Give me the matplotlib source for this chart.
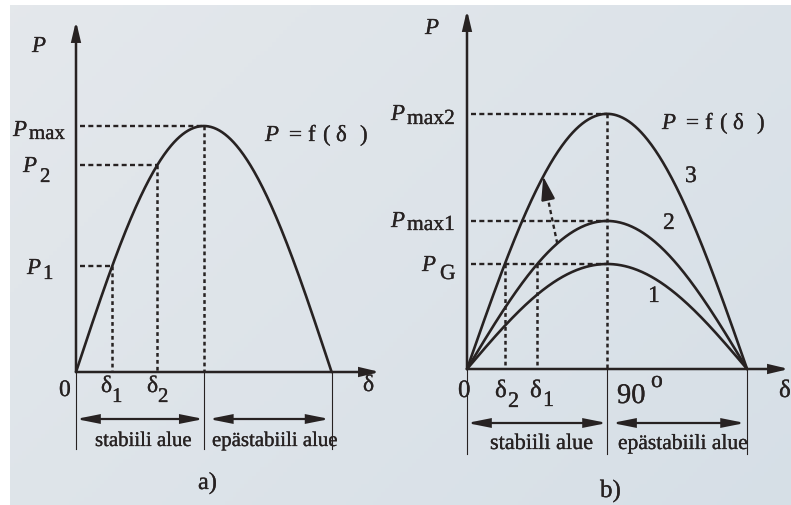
import numpy as np
import matplotlib
matplotlib.use("Agg")
import matplotlib.pyplot as plt
import matplotlib.patheffects as pe
from matplotlib.patches import FancyArrowPatch

plt.rcParams["lines.scale_dashes"] = False

W, H = 791, 506
INK = "#272222"
SERIF = "Liberation Serif"

# ---------------- data ----------------
# load angle in degrees, power-angle characteristic P = Pmax * sin(delta)
delta_deg = np.linspace(0.0, 180.0, 361)

# a) one curve, power levels relative to P_max
a_pmax = 1.0
a_level_names = ["max", "2", "1"]
a_levels = [1.0, 0.84, 0.43]

# b) three curves with increasing maximum power
b_curve_names = ["1", "2", "3"]
b_pmax = [1.0, 1.41, 2.43]
b_level_names = ["max2", "max1", "G"]
b_levels = [2.43, 1.41, 1.0]
b_pg = 1.0
# shift of the operating point from curve 2 up to curve 3 (degrees)
b_shift_from = 58.0
b_shift_to = 49.0

# ---------------- layout ----------------
# each panel: origin (pixels), pixels per degree, pixels per power unit
PA = dict(x0=76, y0=373, xs=1.42, ys=246)
PB = dict(x0=467, y0=370, xs=1.556, ys=105)

fig = plt.figure(figsize=(W / 100, H / 100), dpi=100)
fig.patch.set_facecolor("white")

# paper background with slight shading
bg = fig.add_axes([10 / W, 0, (W - 10) / W, (H - 6) / H])
gx = np.linspace(0, 1, 200)
gy = np.linspace(0, 1, 120)
GX, GY = np.meshgrid(gx, gy)
c0 = np.array([0.895, 0.910, 0.925])
c1 = np.array([0.840, 0.875, 0.905])
t = np.clip(0.6 * GX + 0.4 * GY, 0, 1)[..., None]
bg.imshow(c0 * (1 - t) + c1 * t, aspect="auto", extent=(0, 1, 0, 1), origin="upper")
bg.axis("off")

INK_STROKE = [pe.withStroke(linewidth=0.2, foreground=INK)]


def make_panel(p):
    ax = fig.add_axes([0, 0, 1, 1])
    ax.set_xlim(-p["x0"] / p["xs"], (W - p["x0"]) / p["xs"])
    ax.set_ylim((p["y0"] - H) / p["ys"], p["y0"] / p["ys"])
    ax.axis("off")
    ax.patch.set_visible(False)
    return ax


def px(p, xp, yp):
    return ((xp - p["x0"]) / p["xs"], (p["y0"] - yp) / p["ys"])


def arrow(ax, start, end, style, lw, ms):
    ax.add_patch(FancyArrowPatch(start, end, arrowstyle=style, mutation_scale=ms,
                                 lw=lw, color=INK, shrinkA=0, shrinkB=0,
                                 clip_on=False, joinstyle="miter"))


def txt(ax, p, xp, yp, s, size, italic=False, ha="left"):
    ax.text(*px(p, xp, yp), s, ha=ha, va="baseline", fontsize=size,
            family=SERIF, style="italic" if italic else "normal", color=INK,
            path_effects=INK_STROKE)


def hdash(ax, p, y, x_end):
    ax.plot([4 / p["xs"], x_end], [y, y], color=INK, lw=1.7,
            dashes=(3.6, 2.4), dash_capstyle="butt")


def vdash(ax, x, y_top):
    ax.plot([x, x], [y_top, 0], color=INK, lw=1.8,
            dashes=(2.7, 2.3), dash_capstyle="butt")


def axes_frame(ax, p, ytip_px, xtip_px):
    arrow(ax, (0, 0), px(p, p["x0"], ytip_px), "-|>,head_length=0.55,head_width=0.13", 1.8, 20)
    arrow(ax, (0, 0), px(p, xtip_px, p["y0"]), "-|>,head_length=0.55,head_width=0.13", 1.8, 20)


def regions(ax, p, y_px, bottom_px):
    y = px(p, 0, y_px)[1]
    yb = px(p, 0, bottom_px)[1]
    for d in (0, 90, 180):
        ax.plot([d, d], [0, yb], color=INK, lw=0.8)
    st = "<|-|>,head_length=0.65,head_width=0.13"
    arrow(ax, (0, y), (90, y), st, 1.6, 20)
    arrow(ax, (90 + 5 / p["xs"], y), (180 - 2 / p["xs"], y), st, 1.6, 20)


def pf_label(ax, p, x, y):
    # "P = f ( δ )"
    txt(ax, p, x, y, "P", 16.5, italic=True)
    for dx, s in ((24, "="), (43, "f"), (58, "("), (71, "δ"), (95, ")")):
        txt(ax, p, x + dx, y, s, 16.5)


# ---------------- panel a ----------------
ax = make_panel(PA)
p = PA
d = np.radians(delta_deg)
ax.plot(delta_deg, a_pmax * np.sin(d), color=INK, lw=1.9, solid_capstyle="round")
axes_frame(ax, p, 22, 380)

a_deltas = [np.degrees(np.arcsin(v / a_pmax)) for v in a_levels]
for v, dd in zip(a_levels, a_deltas):
    hdash(ax, p, v, dd)
    vdash(ax, dd, v)

regions(ax, p, 420, 450)

txt(ax, p, 32, 53, "P", 16.5, italic=True)
# level labels: (P left, P baseline, sub left, sub baseline)
a_lab_pos = {"max": (13, 137, 29, 140), "2": (23, 173, 40, 183), "1": (27, 275, 43, 280)}
for name in a_level_names:
    x1, y1, x2, y2 = a_lab_pos[name]
    txt(ax, p, x1, y1, "P", 16.5, italic=True)
    txt(ax, p, x2, y2, name, 15)

txt(ax, p, 59, 397, "0", 17)
txt(ax, p, 101, 393, "δ", 17)
txt(ax, p, 112, 403, "1", 15)
txt(ax, p, 147, 393, "δ", 17)
txt(ax, p, 158, 403, "2", 15)
txt(ax, p, 363, 392, "δ", 17)
pf_label(ax, p, 265, 142)
txt(ax, p, 95, 447, "stabiili alue", 15)
txt(ax, p, 212, 447, "epästabiili alue", 15)
txt(ax, p, 198, 490, "a)", 17.5)

# ---------------- panel b ----------------
ax = make_panel(PB)
p = PB
for pm in b_pmax:
    ax.plot(delta_deg, pm * np.sin(d), color=INK, lw=1.9, solid_capstyle="round")
axes_frame(ax, p, 11, 789)

# P_max lines to the 90° line
for v in b_levels:
    hdash(ax, p, v, 90)
vdash(ax, 90, max(b_pmax))

# operating points at P_G on curves 3 (δ2) and 2 (δ1)
b_delta2 = np.degrees(np.arcsin(b_pg / b_pmax[2]))
b_delta1 = np.degrees(np.arcsin(b_pg / b_pmax[1]))
vdash(ax, b_delta2, b_pg)
vdash(ax, b_delta1, b_pg)

# dashed arrow: operating point moves from curve 2 to curve 3
y_from = b_pmax[1] * np.sin(np.radians(b_shift_from))
y_to = b_pmax[2] * np.sin(np.radians(b_shift_to))
frac = 0.72
xm = b_shift_from + frac * (b_shift_to - b_shift_from)
ym = y_from + frac * (y_to - y_from)
ax.plot([b_shift_from, xm], [y_from, ym], color=INK, lw=1.7,
        dashes=(3.0, 2.4), dash_capstyle="butt")
arrow(ax, (xm, ym), (b_shift_to, y_to), "-|>,head_length=0.75,head_width=0.22", 1.2, 20)

regions(ax, p, 424, 455)

txt(ax, p, 425, 35, "P", 16.5, italic=True)
b_lab_pos = {"max2": (391, 121, 407, 125), "max1": (391, 228, 407, 231), "G": (422, 272, 440, 280)}
for name in b_level_names:
    x1, y1, x2, y2 = b_lab_pos[name]
    txt(ax, p, x1, y1, "P", 16.5, italic=True)
    txt(ax, p, x2, y2, name, 15.5)

b_num_pos = {"1": (648, 303), "2": (663, 230), "3": (685, 183)}
for name in b_curve_names:
    txt(ax, p, *b_num_pos[name], name, 17)

txt(ax, p, 458, 398, "0", 18)
txt(ax, p, 495, 398, "δ", 18)
txt(ax, p, 508, 408, "2", 16)
txt(ax, p, 530, 398, "δ", 18)
txt(ax, p, 543, 407, "1", 16)
txt(ax, p, 617, 404, "90", 20.5)
txt(ax, p, 651, 388, "o", 17)
txt(ax, p, 779, 398, "δ", 18)
pf_label(ax, p, 662, 130)
txt(ax, p, 490, 450, "stabiili alue", 16)
txt(ax, p, 618, 450, "epästabiili alue", 15.5)
txt(ax, p, 600, 498, "b)", 18)

fig.savefig("out.png", dpi=100, facecolor=fig.get_facecolor())
